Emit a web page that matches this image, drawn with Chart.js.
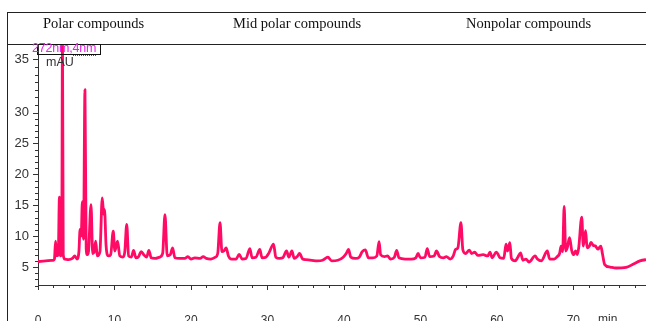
<!DOCTYPE html>
<html>
<head>
<meta charset="utf-8">
<title>Chromatogram 272nm</title>
<script src="https://cdn.jsdelivr.net/npm/chart.js@4/dist/chart.umd.min.js"></script>
<style>
    html, body { margin: 0; padding: 0; background: #fff; overflow: hidden; }
    #wrap { position: relative; width: 646px; height: 321px; }
    #chart { position: absolute; left: 0; top: 0; }
    .frame-line { position: absolute; background: #222; }
    .group-title {
        position: absolute; top: 15px; font-family: "Liberation Serif", "Times New Roman", serif;
        font-size: 14.5px; color: #111; white-space: nowrap;
    }
    #signalBox {
        position: absolute; left: 37px; top: 44px; width: 64px; height: 11px;
        border: 1px solid #111; box-sizing: border-box;
    }
    #signalLabel {
        position: absolute; left: 32px; top: 41px; font-family: Arial, "Liberation Sans", sans-serif;
        font-size: 12.5px; color: #e81ee8; white-space: nowrap; letter-spacing: -0.2px;
    }
    #signalLabel span { border-bottom: 1px dotted #3b3bff; }
    .axis-text { position: absolute; font-family: Arial, "Liberation Sans", sans-serif; color: #333; white-space: nowrap; }
</style>
</head>
<body>
<div id="wrap">
    <canvas id="chart" width="646" height="321"></canvas>

    <!-- figure frame -->
    <div class="frame-line" style="left:7px; top:12px; width:639px; height:1px;"></div>
    <div class="frame-line" style="left:7px; top:12px; width:1px; height:309px;"></div>
    <div class="frame-line" style="left:7px; top:44px; width:639px; height:1px;"></div>

    <!-- compound groups -->
    <div class="group-title" style="left:43px;">Polar compounds</div>
    <div class="group-title" style="left:233px;">Mid polar compounds</div>
    <div class="group-title" style="left:466px;">Nonpolar compounds</div>

    <div id="signalBox"></div>
    <div id="signalLabel">272nm,<span>4nm</span></div>
    <div class="axis-text" style="left:46px; top:55px; font-size:12.5px;">mAU</div>
    <div class="axis-text" style="left:598px; top:312px; font-size:12px;">min</div>
</div>

<script>
// Retention time (min) and detector signal (mAU)
const retentionTimes = [
    0.0, 1.0, 2.0, 2.15, 2.3, 2.45, 2.65, 2.8, 2.95, 3.1, 3.2, 3.3, 3.5, 4.0, 4.5, 4.8, 5.1,
    5.35, 5.5, 5.65, 5.8, 5.95, 6.14, 6.3, 6.45, 6.6, 6.93, 7.15, 7.35, 7.54, 7.75, 8.1, 8.4,
    8.6, 8.7, 8.9, 9.2, 9.5, 9.84, 10.05, 10.4, 10.7, 11.1, 11.35, 11.6, 11.85, 12.2, 12.5,
    12.8, 13.1, 13.5, 13.9, 14.2, 14.5, 14.8, 15.3, 15.9, 16.3, 16.6, 16.9, 17.3, 17.6, 17.9,
    18.5, 19.2, 19.6, 20.0, 20.5, 21.2, 21.6, 22.0, 22.6, 23.2, 23.5, 23.8, 24.05, 24.3, 24.6,
    24.9, 25.3, 25.9, 26.3, 26.7, 27.2, 27.7, 28.0, 28.5, 29.0, 29.3, 29.8, 30.2, 30.8, 31.1,
    31.6, 32.0, 32.5, 32.8, 33.2, 33.5, 33.9, 34.2, 34.6, 35.0, 35.8, 36.5, 37.2, 37.9, 38.4,
    39.2, 39.9, 40.3, 40.6, 40.9, 41.5, 42.0, 42.4, 42.8, 43.2, 43.8, 44.3, 44.6, 44.8, 45.3,
    45.7, 46.1, 46.6, 46.9, 47.2, 48.0, 48.8, 49.4, 49.7, 50.0, 50.6, 50.9, 51.2, 51.8, 52.1,
    52.5, 53.0, 53.4, 53.9, 54.3, 54.6, 54.9, 55.3, 55.55, 55.9, 56.4, 56.7, 57.1, 57.5, 58.2,
    58.8, 59.1, 59.4, 59.9, 60.1, 60.4, 60.9, 61.2, 61.4, 61.7, 61.9, 62.4, 62.7, 63.1, 63.4,
    63.8, 64.2, 65.0, 65.3, 65.8, 66.6, 66.9, 67.5, 67.9, 68.2, 68.4, 68.6, 68.8, 69.0, 69.2,
    69.5, 69.8, 70.0, 70.3, 70.5, 70.7, 71.1, 71.3, 71.6, 71.8, 72.1, 72.3, 72.6, 72.9, 73.2,
    73.6, 73.8, 74.1, 74.8, 75.6, 76.9, 77.8, 78.7, 79.5, 80.5
];
const absorbance = [
    5.9, 6.0, 6.1, 6.3, 9.2, 6.8, 7.0, 16.3, 6.8, 7.5, 42.0, 7.0, 6.3, 6.2, 6.4, 6.8, 6.3,
    7.5, 11.1, 10.0, 15.6, 9.5, 33.7, 8.0, 7.0, 7.5, 15.1, 7.2, 7.5, 9.2, 6.8, 7.5, 16.2,
    13.5, 14.3, 8.5, 6.8, 7.0, 10.8, 7.6, 9.2, 6.8, 6.6, 7.5, 11.9, 6.8, 6.6, 7.7,
    6.5, 6.6, 7.5, 6.9, 6.6, 7.7, 6.5, 6.4, 6.6, 7.2, 13.5, 6.8, 7.0, 8.1, 6.5,
    6.4, 6.4, 6.7, 6.3, 6.5, 6.4, 6.7, 6.4, 6.3, 6.6, 7.2, 12.2, 7.5, 7.6, 8.1,
    6.8, 6.3, 6.3, 7.05, 6.3, 6.4, 8.0, 6.5, 6.6, 7.85, 6.5, 6.6, 7.3, 8.7, 6.6,
    6.4, 6.5, 7.6, 6.6, 7.6, 6.4, 6.7, 7.2, 6.3, 6.2, 6.1, 6.0, 6.1, 6.6, 6.0,
    6.1, 6.6, 7.2, 7.85, 6.6, 6.4, 6.6, 7.5, 7.8, 6.5, 6.5, 6.8, 9.1, 7.0, 6.7,
    6.8, 6.3, 6.6, 7.7, 6.5, 6.3, 6.3, 6.5, 7.2, 6.5, 6.6, 8.0, 6.7, 6.8, 7.6,
    6.7, 6.5, 6.7, 6.3, 6.8, 7.85, 8.1, 12.2, 7.8, 7.2, 7.75, 7.2, 7.4, 6.9, 7.0,
    6.8, 7.4, 6.5, 7.4, 7.2, 6.5, 6.4, 8.7, 7.6, 8.95, 6.4, 6.0, 6.5, 7.3, 6.1,
    6.3, 5.8, 6.8, 6.3, 6.0, 7.6, 6.3, 6.3, 6.7, 7.2, 8.4, 7.5, 14.8, 7.6, 8.1,
    9.75, 7.6, 7.0, 7.6, 7.0, 8.1, 13.1, 8.4, 10.9, 8.1, 8.4, 9.0, 8.5, 8.4, 7.9,
    8.4, 7.2, 5.4, 5.0, 4.85, 4.95, 5.45, 6.0, 6.2, 6.3
];

// Axis ticks (the top label sits higher than the regular spacing, as in the original)
const xTickValues = [0, 10, 20, 30, 40, 50, 60, 70];
const xTickLabels = ['0', '10', '20', '30', '40', '50', '60', '70'];
const yTickValues = [5, 10, 15, 20, 25, 30, 38.6];
const yTickLabels = ['5', '10', '15', '20', '25', '30', '35'];

const traceColor = '#ff0a64';
const axisColor = '#333';

// Minor tick positions
function buildMinorTicks() {
    const xMinor = [];
    for (let t = 0; t <= 78; t += 2) xMinor.push(t);

    const yMinor = [];
    for (let v = 2; v < 30; v++) yMinor.push(v);
    // top section is split in 7 steps up to the last label
    const top = yTickValues[yTickValues.length - 1];
    for (let k = 1; k < 7; k++) yMinor.push(30 + k * (top - 30) / 7);
    return { xMinor, yMinor };
}

// Draw short/long tick marks along both axes
const tickMarks = {
    id: 'tickMarks',
    afterDraw(chart) {
        const { ctx, chartArea, scales: { x, y } } = chart;
        const { xMinor, yMinor } = buildMinorTicks();

        ctx.save();
        ctx.strokeStyle = axisColor;
        ctx.lineWidth = 1;
        ctx.beginPath();

        xMinor.forEach(t => {
            const px = Math.round(x.getPixelForValue(t)) + 0.5;
            const len = xTickValues.includes(t) ? 5 : 3;
            ctx.moveTo(px, chartArea.bottom);
            ctx.lineTo(px, chartArea.bottom + len);
        });

        yTickValues.forEach(v => {
            const py = Math.round(y.getPixelForValue(v)) + 0.5;
            ctx.moveTo(chartArea.left, py);
            ctx.lineTo(chartArea.left - 5, py);
        });
        yMinor.forEach(v => {
            if (yTickValues.includes(v)) return;
            const py = Math.round(y.getPixelForValue(v)) + 0.5;
            ctx.moveTo(chartArea.left, py);
            ctx.lineTo(chartArea.left - 3, py);
        });

        ctx.stroke();
        ctx.restore();
    }
};

function initializeChart() {
    const ctx = document.getElementById('chart');
    const points = retentionTimes.map((t, i) => ({ x: t, y: absorbance[i] }));

    new Chart(ctx, {
        type: 'line',
        data: {
            datasets: [{
                data: points,
                borderColor: traceColor,
                borderWidth: 2.8,
                borderJoinStyle: 'round',
                pointRadius: 0,
                cubicInterpolationMode: 'monotone',
                fill: false
            }]
        },
        options: {
            responsive: false,
            animation: false,
            layout: { padding: { top: 44, right: 0, bottom: 0, left: 0 } },
            plugins: {
                legend: { display: false },
                tooltip: { enabled: false }
            },
            scales: {
                x: {
                    type: 'linear',
                    min: 0,
                    max: 79.5,
                    afterFit: scale => { scale.height = 36; },
                    afterBuildTicks: scale => {
                        scale.ticks = xTickValues.map(v => ({ value: v }));
                    },
                    grid: { display: false, drawTicks: false },
                    border: { display: true, color: axisColor, width: 1 },
                    ticks: {
                        callback: (value, index) => xTickLabels[index],
                        autoSkip: false,
                        maxRotation: 0,
                        padding: 28,
                        color: axisColor,
                        font: { family: 'Arial', size: 12 }
                    }
                },
                y: {
                    type: 'linear',
                    min: 2.1,
                    max: 41.1,
                    afterFit: scale => { scale.width = 38; },
                    afterBuildTicks: scale => {
                        scale.ticks = yTickValues.map(v => ({ value: v }));
                    },
                    grid: { display: false, drawTicks: false },
                    border: { display: true, color: axisColor, width: 1 },
                    ticks: {
                        callback: (value, index) => yTickLabels[index],
                        autoSkip: false,
                        padding: 9,
                        color: axisColor,
                        font: { family: 'Arial', size: 13 }
                    }
                }
            }
        },
        plugins: [tickMarks]
    });
}

document.addEventListener('DOMContentLoaded', initializeChart);
</script>
</body>
</html>
